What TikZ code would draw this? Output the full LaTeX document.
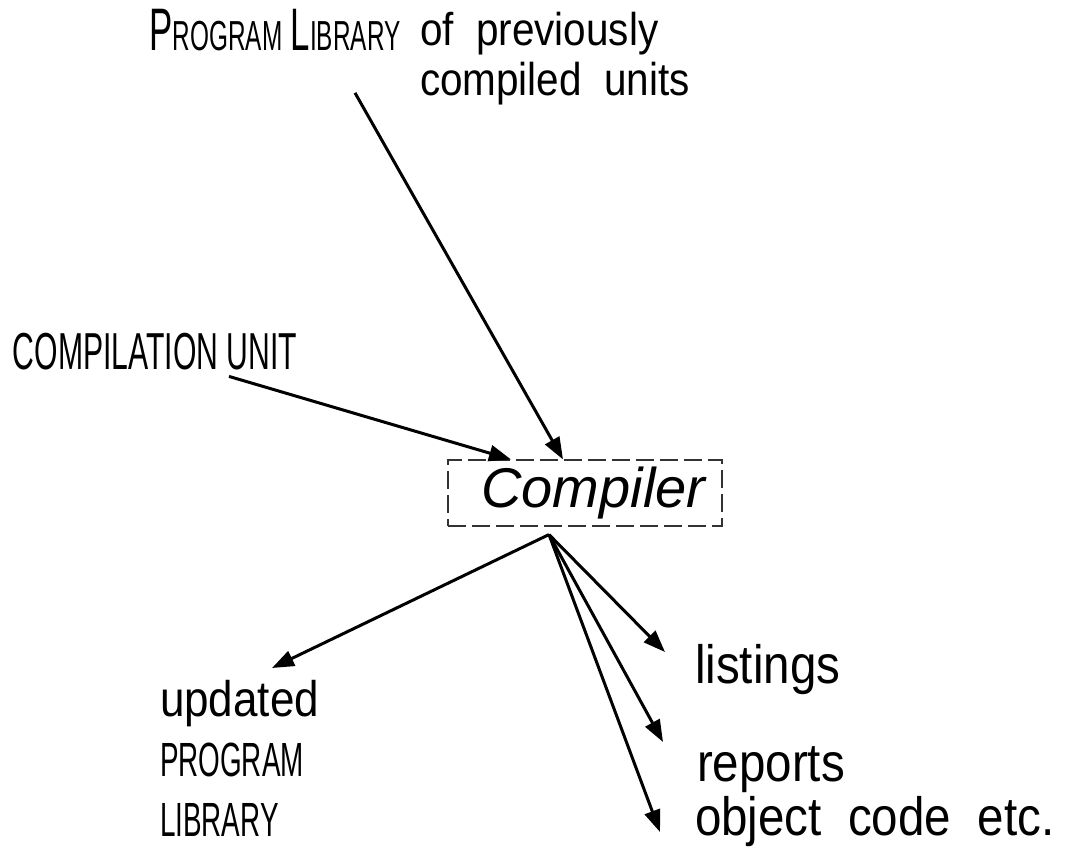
\documentclass[tikz,border=0pt]{standalone}
\usepackage{fontspec}
\setmainfont{Liberation Sans}
\newfontfamily\handcaps{Liberation Sans}[FakeStretch=0.58]
\newfontfamily\handlow{Liberation Sans}[FakeStretch=0.88]
\usetikzlibrary{arrows.meta,positioning}

\newcommand{\smallcap}[2]{{\fontsize{30}{34}\selectfont #1}{\fontsize{21}{24}\selectfont #2}}

\begin{document}
\begin{tikzpicture}[x=0.5pt,y=-0.5pt,
textnode/.style={inner sep=0pt, outer sep=0pt},
capsnode/.style={textnode, font=\handcaps\fontsize{26}{30}\selectfont},
handnode/.style={textnode, font=\handlow\fontsize{27}{32}\selectfont},
boxnode/.style={rectangle, draw=black!80, dash pattern=on 9pt off 3pt, line width=0.8pt, minimum width=137pt, minimum height=31pt, font=\itshape\fontsize{28}{32}\selectfont},
>={Triangle[length=11pt,width=8pt]},
arrow/.style={->, line width=1.5pt},
]
\useasboundingbox (0,0) rectangle (1071,855);
%Nodes
\node[capsnode]      (proglib)    at (275,30)  {\smallcap{P}{ROGRAM}\ \smallcap{L}{IBRARY}};
\node[textnode, font=\handlow\fontsize{23}{25}\selectfont, align=left, anchor=north west] (prevunits) at (420,12) {of\ \ previously\\compiled\ \ units};
\node[capsnode]      (compunit)   at (155,352) {COMPILATION UNIT};
\node[boxnode]       (compiler)   at (585,493) {\hspace*{0.3em}Compiler};
\node[handnode, anchor=west] (listings) at (695,670) {listings};
\node[handnode, anchor=west] (reports)  at (697,770) {reports};
\node[handnode, anchor=west] (objcode)  at (695,822) {object\ \ code\ \ etc.};
\node[textnode, font=\handlow\fontsize{25}{30}\selectfont, align=left, anchor=north west] (updated) at (160,680) {updated\\{\handcaps\fontsize{24}{30}\selectfont PROGRAM}\\{\handcaps\fontsize{24}{30}\selectfont LIBRARY}};

%Lines
\draw[arrow] ([xshift=40pt,yshift=-21pt]proglib.south) -- ([xshift=-11pt]compiler.north);
\draw[arrow] ([xshift=37pt,yshift=-3pt]compunit.south) -- ([xshift=-37pt]compiler.north);
\coordinate (fan) at ([xshift=-18pt,yshift=-4pt]compiler.south);
\draw[arrow] (fan) -- ([xshift=56pt,yshift=6pt]updated.north west);
\draw[arrow] (fan) -- ([xshift=-15pt,yshift=9pt]listings.west);
\draw[arrow] (fan) -- ([xshift=-17pt,yshift=14pt]reports.west);
\draw[arrow] (fan) -- ([xshift=-17.5pt,yshift=-5pt]objcode.west);
\end{tikzpicture}
\end{document}
